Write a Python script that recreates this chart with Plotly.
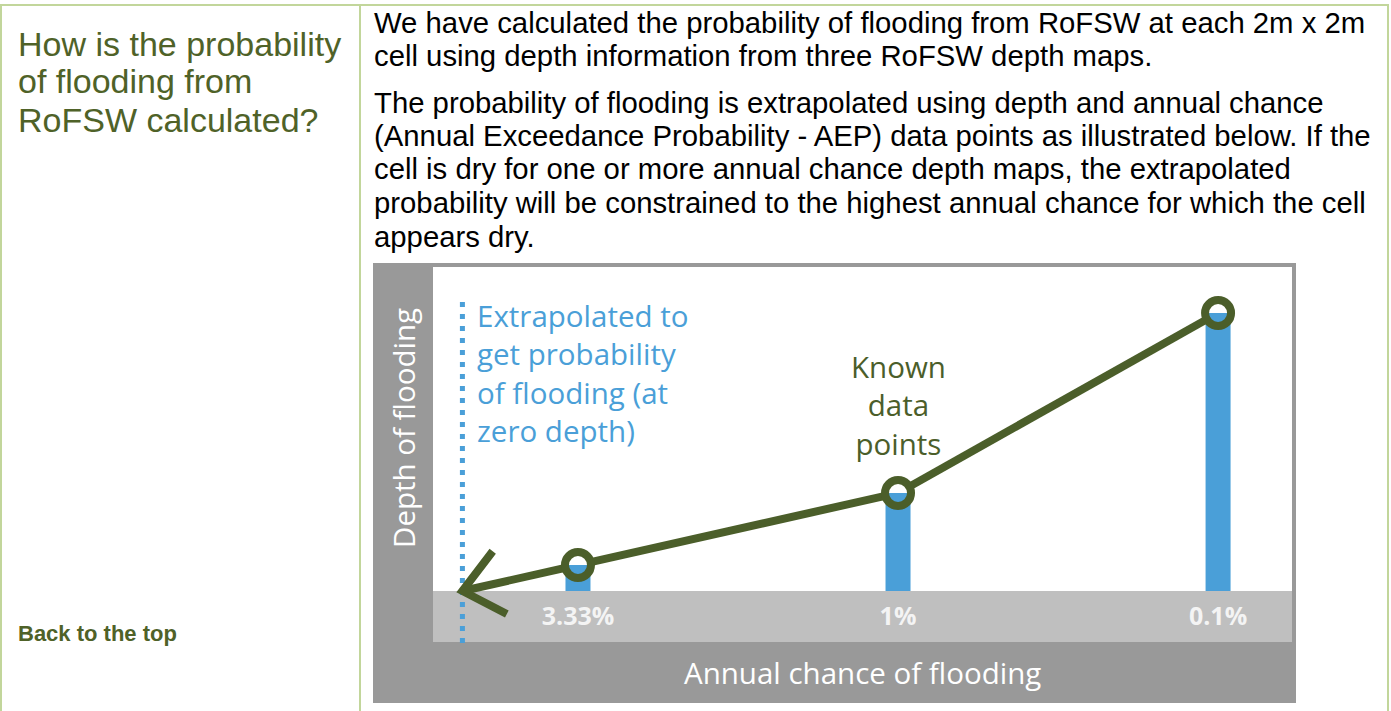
import math
import plotly.graph_objects as go

W, H = 1391, 711

# ---------------- data ----------------
categories = ["3.33%", "1%", "0.1%"]          # annual chance of flooding
depths = [0.26, 0.98, 2.78]                   # schematic depth at each known point
depth_max = 3.24

title_lines = ["How is the probability", "of flooding from", "RoFSW calculated?"]
body_lines = [
    "We have calculated the probability of flooding from RoFSW at each 2m x 2m",
    "cell using depth information from three RoFSW depth maps.",
    "The probability of flooding is extrapolated using depth and annual chance",
    "(Annual Exceedance Probability - AEP) data points as illustrated below. If the",
    "cell is dry for one or more annual chance depth maps, the extrapolated",
    "probability will be constrained to the highest annual chance for which the cell",
    "appears dry.",
]
extrap_text = "Extrapolated to<br>get probability<br>of flooding (at<br>zero depth)"
known_text = "Known<br>data<br>points"
y_title = "Depth of flooding"
x_title = "Annual chance of flooding"
back_text = "Back to the top"

# ---------------- styles ----------------
BORDER = "#c2d69b"
TITLE_GREEN = "#4f6228"
GREEN = "#4b5e2a"
BLUE = "#4a9fd8"
DARK_GREY = "#999999"
LIGHT_GREY = "#bfbfbf"
BODY_FONT = "Arial, Liberation Sans, sans-serif"
DIAG_FONT = "Open Sans, sans-serif"


def px(x):
    return x / W


def py(y):
    return 1 - y / H


# diagram geometry (pixels)
plot_l, plot_r, plot_t, plot_b = 433, 1292, 267, 591
diag_l, diag_r, diag_t, diag_b = 373, 1296, 263, 703
x_range = [-0.453, 2.231]
sx = (plot_r - plot_l) / (x_range[1] - x_range[0])
sy = (plot_b - plot_t) / depth_max
y_low = -(diag_b - plot_b) / sy     # let the axis extend below zero depth so the arrow is not clipped

idx = list(range(len(categories)))

# extrapolate to zero depth from the first two known points
x_tip = idx[0] - depths[0] * (idx[1] - idx[0]) / (depths[1] - depths[0])


def to_s(p):
    return (p[0] * sx, p[1] * sy)


def to_d(p):
    return (p[0] / sx, p[1] / sy)


def trim(p, q, r0, r1):
    a, b = to_s(p), to_s(q)
    dx, dy = b[0] - a[0], b[1] - a[1]
    L = math.hypot(dx, dy)
    ux, uy = dx / L, dy / L
    a2 = (a[0] + ux * r0, a[1] + uy * r0)
    b2 = (b[0] - ux * r1, b[1] - uy * r1)
    return to_d(a2), to_d(b2)


pts = list(zip(idx, depths))[::-1]  # right to left
tip = (x_tip, 0.0)
R = 13
lx, ly = [], []
chain = pts + [tip]
for i in range(len(chain) - 1):
    r1 = R if i < len(chain) - 2 else 0
    a, b = trim(chain[i], chain[i + 1], R, r1)
    lx += [a[0], b[0], None]
    ly += [a[1], b[1], None]

# chevron arrow head
ts = to_s(tip)
ps = to_s(pts[-1])
ang = math.atan2(ps[1] - ts[1], ps[0] - ts[0])
arm = 50
arms = []
for s in (1, -1):
    a = ang + s * math.radians(40)
    arms.append(to_d((ts[0] + arm * math.cos(a), ts[1] + arm * math.sin(a))))
lx += [arms[0][0], tip[0], arms[1][0]]
ly += [arms[0][1], tip[1], arms[1][1]]

fig = go.Figure()
fig.add_trace(go.Bar(x=idx, y=depths, width=25 / sx, marker=dict(color=BLUE, line=dict(width=0)),
                     hoverinfo="skip"))
fig.add_trace(go.Scatter(x=lx, y=ly, mode="lines", line=dict(color=GREEN, width=8),
                         hoverinfo="skip"))
fig.add_trace(go.Scatter(x=idx, y=depths, mode="markers", cliponaxis=False,
                         marker=dict(symbol="circle-open", size=26, color=GREEN,
                                     line=dict(width=8, color=GREEN)),
                         hoverinfo="skip"))

shapes = [
    # diagram backgrounds
    dict(type="rect", xref="paper", yref="paper", x0=px(diag_l), x1=px(diag_r), y0=py(diag_b), y1=py(diag_t),
         fillcolor=DARK_GREY, line=dict(width=0), layer="below"),
    dict(type="rect", xref="paper", yref="paper", x0=px(plot_l), x1=px(plot_r), y0=py(plot_b), y1=py(plot_t),
         fillcolor="white", line=dict(width=0), layer="below"),
    dict(type="rect", xref="paper", yref="paper", x0=px(plot_l), x1=px(plot_r), y0=py(642), y1=py(plot_b),
         fillcolor=LIGHT_GREY, line=dict(width=0), layer="below"),
    # dotted extrapolation line
    dict(type="line", xref="x", yref="paper", x0=x_tip, x1=x_tip, y0=py(643), y1=py(300),
         line=dict(color=BLUE, width=5, dash="5px,7px"), layer="below"),
    # table borders
    dict(type="line", xref="paper", yref="paper", x0=0, x1=px(1389), y0=py(5), y1=py(5),
         line=dict(color=BORDER, width=2)),
    dict(type="line", xref="paper", yref="paper", x0=px(1), x1=px(1), y0=py(4), y1=0,
         line=dict(color=BORDER, width=2)),
    dict(type="line", xref="paper", yref="paper", x0=px(360), x1=px(360), y0=py(4), y1=0,
         line=dict(color=BORDER, width=2)),
    dict(type="line", xref="paper", yref="paper", x0=px(1388), x1=px(1388), y0=py(4), y1=0,
         line=dict(color=BORDER, width=2)),
]

annotations = []
title_y = [43.5, 81.5, 119.5]
for t, y in zip(title_lines, title_y):
    annotations.append(dict(text=t, x=px(16), y=py(y), xref="paper", yref="paper", xanchor="left",
                            yanchor="middle", showarrow=False,
                            font=dict(family=BODY_FONT, size=34, color=TITLE_GREEN)))
body_y = [22.5, 55.5, 102.5, 135.5, 168.5, 202.5, 236.5]
for t, y in zip(body_lines, body_y):
    annotations.append(dict(text=t, x=px(372), y=py(y), xref="paper", yref="paper", xanchor="left",
                            yanchor="middle", showarrow=False,
                            font=dict(family=BODY_FONT, size=29.3, color="#000000")))
annotations.append(dict(text=back_text, x=px(16), y=py(633), xref="paper", yref="paper", xanchor="left",
                        yanchor="middle", showarrow=False,
                        font=dict(family=BODY_FONT, size=22, color=TITLE_GREEN, weight="bold")))
annotations.append(dict(text=extrap_text, x=px(475), y=py(372.5), xref="paper", yref="paper",
                        xanchor="left", yanchor="middle", align="left", showarrow=False,
                        font=dict(family=DIAG_FONT, size=29.5, color=BLUE)))
annotations.append(dict(text=known_text, x=idx[1], y=py(405), xref="x", yref="paper",
                        xanchor="center", yanchor="middle", align="center", showarrow=False,
                        font=dict(family=DIAG_FONT, size=29.5, color=GREEN)))
annotations.append(dict(text=y_title, x=px(403), y=py(428), xref="paper", yref="paper",
                        xanchor="center", yanchor="middle", textangle=-90, showarrow=False,
                        font=dict(family=DIAG_FONT, size=29.5, color="white")))
annotations.append(dict(text=x_title, x=px(862.5), y=py(672), xref="paper", yref="paper",
                        xanchor="center", yanchor="middle", showarrow=False,
                        font=dict(family=DIAG_FONT, size=29.5, color="white")))

fig.update_layout(
    width=W, height=H, margin=dict(l=0, r=0, t=0, b=0),
    paper_bgcolor="white", plot_bgcolor="rgba(0,0,0,0)",
    showlegend=False, shapes=shapes, annotations=annotations,
    xaxis=dict(domain=[px(plot_l), px(plot_r)], range=x_range, tickmode="array", tickvals=idx,
               ticktext=categories, ticks="", showgrid=False, zeroline=False, showline=False,
               anchor="free", position=py(plot_b),
               tickfont=dict(family=DIAG_FONT, size=25, color="#f4f4f4", weight="bold"),
               ticklabelstandoff=8, fixedrange=True),
    yaxis=dict(domain=[py(diag_b), py(plot_t)], range=[y_low, depth_max], showgrid=False,
               zeroline=False, showticklabels=False, showline=False, fixedrange=True),
)

fig.write_html("out.html", post_script="document.body.style.margin='0px';",
               config={"displayModeBar": False})
